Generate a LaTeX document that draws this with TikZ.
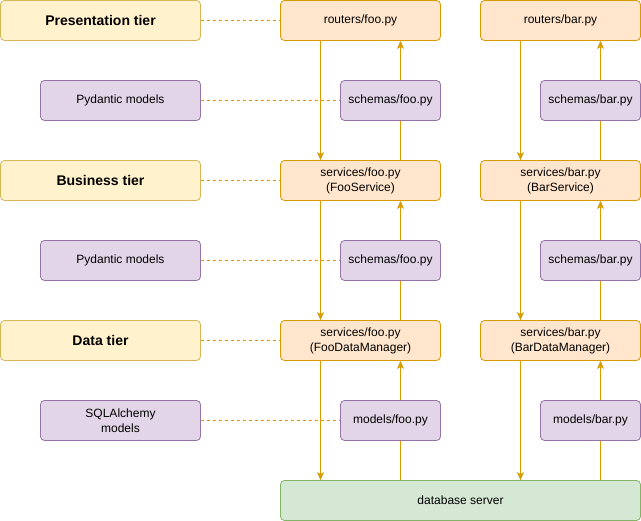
\documentclass[tikz,border=0pt]{standalone}
\usepackage{fontspec}
\setmainfont{Liberation Sans}
\usetikzlibrary{shapes,arrows.meta,positioning}

\definecolor{tierfill}{HTML}{FFF2CC}
\definecolor{tierdraw}{HTML}{D6B656}
\definecolor{codefill}{HTML}{FFE6CC}
\definecolor{codedraw}{HTML}{D79B00}
\definecolor{modelfill}{HTML}{E1D5E7}
\definecolor{modeldraw}{HTML}{9673A6}
\definecolor{dbfill}{HTML}{D5E8D4}
\definecolor{dbdraw}{HTML}{82B366}

\begin{document}
\begin{tikzpicture}[x=1pt, y=-1pt, node distance=160pt, line width=0.8pt,
    font=\fontsize{12}{15}\selectfont]
  \tikzstyle{tier} = [rectangle, draw=tierdraw, fill=tierfill, rounded corners=4pt,
    minimum width=200pt, minimum height=40pt, font=\fontsize{14}{16}\selectfont\bfseries]
  \tikzstyle{model} = [rectangle, draw=modeldraw, fill=modelfill, rounded corners=4pt,
    align=center, minimum width=160pt, minimum height=40pt]
  \tikzstyle{module} = [rectangle, draw=codedraw, fill=codefill, rounded corners=4pt,
    align=center, minimum width=160pt, minimum height=40pt]
  \tikzstyle{schema} = [rectangle, draw=modeldraw, fill=modelfill, rounded corners=4pt,
    align=center, minimum width=100pt, minimum height=40pt]
  \tikzstyle{line} = [draw=codedraw, -{Stealth[length=8pt,width=7pt,inset=2pt]}]
  \tikzstyle{plainline} = [draw=codedraw]
  \tikzstyle{dashline} = [draw=codedraw, dash pattern=on 3pt off 3pt]

  \useasboundingbox (0,0) rectangle (641,521);

  % Place nodes
  \node [tier] (prestier) at (100.5,20.5) {Presentation tier};
  \node [tier, below of=prestier] (busitier) {Business tier};
  \node [tier, below of=busitier] (datatier) {Data tier};

  \node [model] (pydantic1) at (120.5,100.5) {Pydantic models};
  \node [model, below of=pydantic1] (pydantic2) {Pydantic models};
  \node [model, below of=pydantic2] (sqlalchemy) {SQLAlchemy\\models};

  \node [module] (routersfoo) at (360.5,20.5) {routers/foo.py};
  \node [module, below of=routersfoo] (servicesfoo) {services/foo.py\\(FooService)};
  \node [module, below of=servicesfoo] (managerfoo) {services/foo.py\\(FooDataManager)};

  \node [module] (routersbar) at (560.5,20.5) {routers/bar.py};
  \node [module, below of=routersbar] (servicesbar) {services/bar.py\\(BarService)};
  \node [module, below of=servicesbar] (managerbar) {services/bar.py\\(BarDataManager)};

  \node [schema] (schemasfoo1) at (390.5,100.5) {schemas/foo.py};
  \node [schema, below of=schemasfoo1] (schemasfoo2) {schemas/foo.py};
  \node [schema, below of=schemasfoo2] (modelsfoo) {models/foo.py};

  \node [schema] (schemasbar1) at (590.5,100.5) {schemas/bar.py};
  \node [schema, below of=schemasbar1] (schemasbar2) {schemas/bar.py};
  \node [schema, below of=schemasbar2] (modelsbar) {models/bar.py};

  \node [rectangle, draw=dbdraw, fill=dbfill, rounded corners=4pt,
    minimum width=360pt, minimum height=40pt] (database) at (460.5,500.5) {database server};

  % Draw edges
  \path [dashline] (prestier) -- (routersfoo);
  \path [dashline] (busitier) -- (servicesfoo);
  \path [dashline] (datatier) -- (managerfoo);
  \path [dashline] (pydantic1) -- (schemasfoo1);
  \path [dashline] (pydantic2) -- (schemasfoo2);
  \path [dashline] (sqlalchemy) -- (modelsfoo);

  \path [line] ([xshift=-40pt]routersfoo.south) -- ([xshift=-40pt]servicesfoo.north);
  \path [line] ([xshift=-40pt]servicesfoo.south) -- ([xshift=-40pt]managerfoo.north);
  \path [line] ([xshift=-40pt]managerfoo.south) -- ([xshift=-40pt]managerfoo.south |- database.north);
  \path [line] ([xshift=-40pt]routersbar.south) -- ([xshift=-40pt]servicesbar.north);
  \path [line] ([xshift=-40pt]servicesbar.south) -- ([xshift=-40pt]managerbar.north);
  \path [line] ([xshift=-40pt]managerbar.south) -- ([xshift=-40pt]managerbar.south |- database.north);

  \path [plainline] ([xshift=40pt]servicesfoo.north) -- ([xshift=10pt]schemasfoo1.south);
  \path [line] ([xshift=10pt]schemasfoo1.north) -- ([xshift=40pt]routersfoo.south);
  \path [plainline] ([xshift=40pt]managerfoo.north) -- ([xshift=10pt]schemasfoo2.south);
  \path [line] ([xshift=10pt]schemasfoo2.north) -- ([xshift=40pt]servicesfoo.south);
  \path [plainline] ([xshift=10pt]modelsfoo.south |- database.north) -- ([xshift=10pt]modelsfoo.south);
  \path [line] ([xshift=10pt]modelsfoo.north) -- ([xshift=40pt]managerfoo.south);

  \path [plainline] ([xshift=40pt]servicesbar.north) -- ([xshift=10pt]schemasbar1.south);
  \path [line] ([xshift=10pt]schemasbar1.north) -- ([xshift=40pt]routersbar.south);
  \path [plainline] ([xshift=40pt]managerbar.north) -- ([xshift=10pt]schemasbar2.south);
  \path [line] ([xshift=10pt]schemasbar2.north) -- ([xshift=40pt]servicesbar.south);
  \path [plainline] ([xshift=10pt]modelsbar.south |- database.north) -- ([xshift=10pt]modelsbar.south);
  \path [line] ([xshift=10pt]modelsbar.north) -- ([xshift=40pt]managerbar.south);

\end{tikzpicture}
\end{document}
